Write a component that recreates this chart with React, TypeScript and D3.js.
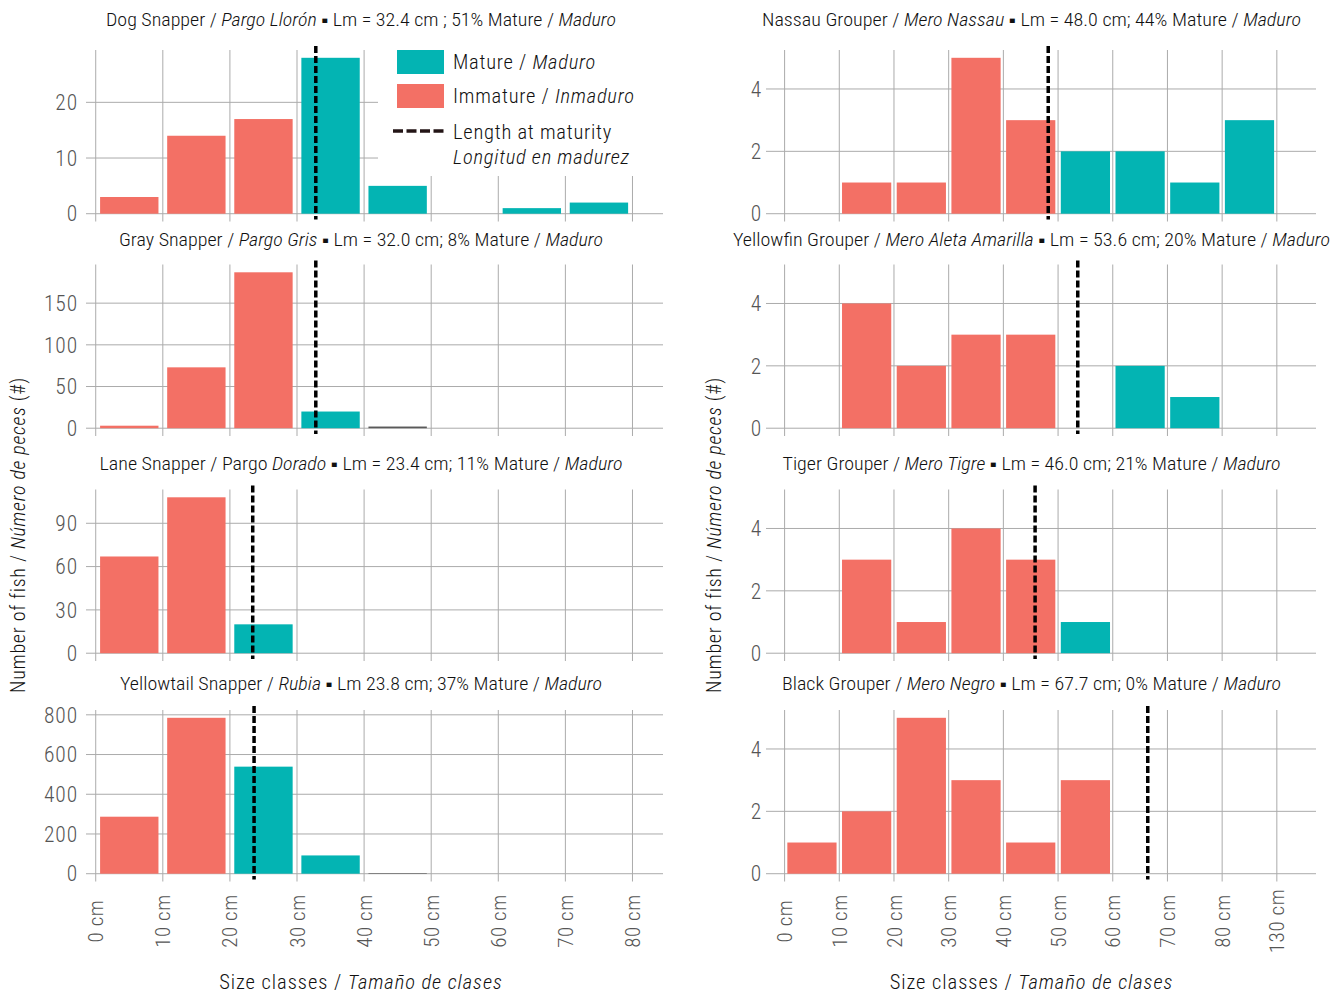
import React from "react";
import * as d3 from "d3";

// ---------- data ----------
const leftClassLabels = ["0 cm", "10 cm", "20 cm", "30 cm", "40 cm", "50 cm", "60 cm", "70 cm", "80 cm"];
const rightClassLabels = ["0 cm", "10 cm", "20 cm", "30 cm", "40 cm", "50 cm", "60 cm", "70 cm", "80 cm", "130 cm"];

// counts per size class (snappers: 8 classes, groupers: 9 classes incl. 80-130)
const dogImmature = [3, 14, 17, 0, 0, 0, 0, 0];
const dogMature = [0, 0, 0, 28, 5, 0, 1, 2];
const dogUnknown = [0, 0, 0, 0, 0, 0, 0, 0];

const grayImmature = [3, 73, 187, 0, 0, 0, 0, 0];
const grayMature = [0, 0, 0, 20, 0, 0, 0, 0];
const grayUnknown = [0, 0, 0, 0, 2, 0, 0, 0];

const laneImmature = [67, 108, 0, 0, 0, 0, 0, 0];
const laneMature = [0, 0, 20, 0, 0, 0, 0, 0];
const laneUnknown = [0, 0, 0, 0, 0, 0, 0, 0];

const yellowtailImmature = [287, 785, 0, 0, 0, 0, 0, 0];
const yellowtailMature = [0, 0, 539, 92, 0, 0, 0, 0];
const yellowtailUnknown = [0, 0, 0, 0, 3, 0, 0, 0];

const nassauImmature = [0, 1, 1, 5, 3, 0, 0, 0, 0];
const nassauMature = [0, 0, 0, 0, 0, 2, 2, 1, 3];

const yellowfinImmature = [0, 4, 2, 3, 3, 0, 0, 0, 0];
const yellowfinMature = [0, 0, 0, 0, 0, 0, 2, 1, 0];

const tigerImmature = [0, 3, 1, 4, 3, 0, 0, 0, 0];
const tigerMature = [0, 0, 0, 0, 0, 1, 0, 0, 0];

const blackImmature = [1, 2, 5, 3, 1, 3, 0, 0, 0];
const blackMature = [0, 0, 0, 0, 0, 0, 0, 0, 0];

const noUnknown9 = [0, 0, 0, 0, 0, 0, 0, 0, 0];

// y ticks
const dogTicks = [0, 10, 20];
const grayTicks = [0, 50, 100, 150];
const laneTicks = [0, 30, 60, 90];
const yellowtailTicks = [0, 200, 400, 600, 800];
const grouperTicks = [0, 2, 4];
const grouperMax = 5;

// length at maturity, as drawn (cm)
const snapperLmLine = [32.8, 32.8, 23.4, 23.6];
const grouperLmLine = [48.2, 53.6, 45.8, 66.4];

// titles: [text, italic]
const dogTitle: [string, boolean][] = [["Dog Snapper / ", false], ["Pargo Llorón", true], [" ▪ Lm = 32.4 cm ; 51% Mature / ", false], ["Maduro", true]];
const grayTitle: [string, boolean][] = [["Gray Snapper / ", false], ["Pargo Gris", true], [" ▪ Lm = 32.0 cm; 8% Mature / ", false], ["Maduro", true]];
const laneTitle: [string, boolean][] = [["Lane Snapper / Pargo ", false], ["Dorado", true], [" ▪ Lm = 23.4 cm; 11% Mature / ", false], ["Maduro", true]];
const yellowtailTitle: [string, boolean][] = [["Yellowtail Snapper / ", false], ["Rubia", true], [" ▪ Lm 23.8 cm; 37% Mature / ", false], ["Maduro", true]];
const nassauTitle: [string, boolean][] = [["Nassau Grouper / ", false], ["Mero Nassau", true], [" ▪ Lm = 48.0 cm; 44% Mature / ", false], ["Maduro", true]];
const yellowfinTitle: [string, boolean][] = [["Yellowfin Grouper / ", false], ["Mero Aleta Amarilla", true], [" ▪ Lm = 53.6 cm; 20% Mature / ", false], ["Maduro", true]];
const tigerTitle: [string, boolean][] = [["Tiger Grouper / ", false], ["Mero Tigre", true], [" ▪ Lm = 46.0 cm; 21% Mature / ", false], ["Maduro", true]];
const blackTitle: [string, boolean][] = [["Black Grouper / ", false], ["Mero Negro", true], [" ▪ Lm = 67.7 cm; 0% Mature / ", false], ["Maduro", true]];

// ---------- layout / style ----------
const FONT = "'Roboto Condensed', Roboto, 'Noto Sans', sans-serif";
const C_IMM = "#F37065";
const C_MAT = "#03B4B3";
const C_UNK = "#5a5a5a";
const GRID = "#ababab";
const TICKTXT = "#555555";

const ROW_TOPS = [50, 264.5, 489.5, 710];
const PANEL_H = 171.5;
const TITLE_Y = [26, 246, 470, 690];
const LEFT_TITLE_W = [510, 484, 523, 482];
const RIGHT_TITLE_W = [539, 597, 498, 499];

type PanelProps = {
  x0: number; x1: number; dom: [number, number]; labels: string[]; barW: number;
  top: number; yMax: number; yTicks: number[];
  imm: number[]; mat: number[]; unk: number[]; lm: number;
  title: [string, boolean][]; titleX: number; titleY: number; titleW: number; showX: boolean; labelX: number;
};

function Panel(p: PanelProps) {
  const x = d3.scaleLinear().domain(p.dom).range([p.x0, p.x1]);
  const pad = p.yMax * 0.05;
  const y = d3.scaleLinear().domain([-pad, p.yMax + pad]).range([p.top + PANEL_H, p.top]);
  const bw = x(p.barW) - x(0);
  const bars: JSX.Element[] = [];
  p.imm.forEach((v, i) => {
    const stack = [
      [v, C_IMM],
      [p.mat[i], C_MAT],
      [p.unk[i], C_UNK],
    ] as [number, string][];
    let base = 0;
    stack.forEach(([val, col], k) => {
      if (val > 0) {
        bars.push(
          <rect key={`${i}-${k}`} x={x(i + 0.5) - bw / 2} width={bw} y={y(base + val)} height={y(base) - y(base + val)} fill={col} />
        );
      }
      base += val;
    });
  });
  return (
    <g>
      <text x={p.titleX} y={p.titleY} textAnchor="middle" fontSize={17.5} fill="#111" fontWeight={300}
        textLength={p.titleW} lengthAdjust="spacingAndGlyphs">
        {p.title.map(([t, it], i) => (
          <tspan key={i} fontStyle={it ? "italic" : "normal"}>{t}</tspan>
        ))}
      </text>
      {p.yTicks.map((t) => (
        <line key={"h" + t} x1={p.x0} x2={p.x1} y1={y(t)} y2={y(t)} stroke={GRID} strokeWidth={1} />
      ))}
      {p.labels.map((_, i) => (
        <line key={"v" + i} x1={x(i)} x2={x(i)} y1={p.top} y2={p.top + PANEL_H} stroke={GRID} strokeWidth={1} />
      ))}
      {p.yTicks.map((t) => (
        <text key={"yl" + t} x={p.labelX} y={y(t)} dy="0.36em" textAnchor="end" fontSize={21.5} fill={TICKTXT} fontWeight={300} letterSpacing={0.9}>{t}</text>
      ))}
      {bars}
      <line x1={x(p.lm / 10)} x2={x(p.lm / 10)} y1={p.top - 4} y2={p.top + PANEL_H - 2} stroke="#000" strokeWidth={3.5} strokeDasharray="7,3" />
      {p.showX && p.labels.map((l, i) => (
        <text key={"xl" + i} transform={`translate(${x(i)},921) rotate(-90)`} dy="0.36em" textAnchor="middle" fontSize={21} fill={TICKTXT} fontWeight={300} letterSpacing={0.6}>{l}</text>
      ))}
    </g>
  );
}

function Legend() {
  return (
    <g>
      <rect x={378} y={40} width={286} height={136} fill="#fff" />
      <rect x={397} y={50} width={47} height={24} fill={C_MAT} />
      <rect x={397} y={84} width={47} height={24} fill={C_IMM} />
      <line x1={393} x2={444} y1={131} y2={131} stroke="#231516" strokeWidth={3.5} strokeDasharray="10,3.5" />
      <g fontSize={20.5} fill="#111" fontWeight={300} letterSpacing={0.75}>
        <text x={453} y={69}>Mature / <tspan fontStyle="italic">Maduro</tspan></text>
        <text x={453} y={103}>Immature / <tspan fontStyle="italic">Inmaduro</tspan></text>
        <text x={453} y={139}>Length at maturity</text>
        <text x={453} y={164} fontStyle="italic">Longitud en madurez</text>
      </g>
    </g>
  );
}

const snappers = [
  { imm: dogImmature, mat: dogMature, unk: dogUnknown, ticks: dogTicks, title: dogTitle },
  { imm: grayImmature, mat: grayMature, unk: grayUnknown, ticks: grayTicks, title: grayTitle },
  { imm: laneImmature, mat: laneMature, unk: laneUnknown, ticks: laneTicks, title: laneTitle },
  { imm: yellowtailImmature, mat: yellowtailMature, unk: yellowtailUnknown, ticks: yellowtailTicks, title: yellowtailTitle },
];
const groupers = [
  { imm: nassauImmature, mat: nassauMature, title: nassauTitle },
  { imm: yellowfinImmature, mat: yellowfinMature, title: yellowfinTitle },
  { imm: tigerImmature, mat: tigerMature, title: tigerTitle },
  { imm: blackImmature, mat: blackMature, title: blackTitle },
];

export default function App() {
  return (
    <svg width={1341} height={994} style={{ position: "absolute", left: 0, top: 0, background: "#fff" }} fontFamily={FONT}>
      <rect width={1341} height={994} fill="#fff" />
      {snappers.map((s, r) => {
        const totals = s.imm.map((v, i) => v + s.mat[i] + s.unk[i]);
        return (
          <Panel key={"s" + r} x0={86} x1={663} dom={[-0.145, 8.455]} labels={leftClassLabels} barW={0.87}
            top={ROW_TOPS[r]} yMax={d3.max(totals) as number} yTicks={s.ticks}
            imm={s.imm} mat={s.mat} unk={s.unk} lm={snapperLmLine[r]}
            title={s.title} titleX={361} titleY={TITLE_Y[r]} titleW={LEFT_TITLE_W[r]} showX={r === 3} labelX={78} />
        );
      })}
      {groupers.map((g, r) => (
        <Panel key={"g" + r} x0={766} x1={1316} dom={[-0.34, 9.716]} labels={rightClassLabels} barW={0.9}
          top={ROW_TOPS[r]} yMax={grouperMax} yTicks={grouperTicks}
          imm={g.imm} mat={g.mat} unk={noUnknown9} lm={grouperLmLine[r]}
          title={g.title} titleX={1031.5} titleY={TITLE_Y[r]} titleW={RIGHT_TITLE_W[r]} showX={r === 3} labelX={762} />
      ))}
      <Legend />
      <g fontSize={20} fill="#111" fontWeight={300}>
        <text transform="translate(18,535) rotate(-90)" dy="0.36em" textAnchor="middle" letterSpacing={0.7}>Number of fish / <tspan fontStyle="italic">Número de peces</tspan> (#)</text>
        <text transform="translate(714,535) rotate(-90)" dy="0.36em" textAnchor="middle" letterSpacing={0.7}>Number of fish / <tspan fontStyle="italic">Número de peces</tspan> (#)</text>
        <text x={361} y={989} textAnchor="middle" fontSize={20.5} letterSpacing={0.95}>Size classes / <tspan fontStyle="italic">Tamaño de clases</tspan></text>
        <text x={1031.5} y={989} textAnchor="middle" fontSize={20.5} letterSpacing={0.95}>Size classes / <tspan fontStyle="italic">Tamaño de clases</tspan></text>
      </g>
    </svg>
  );
}
